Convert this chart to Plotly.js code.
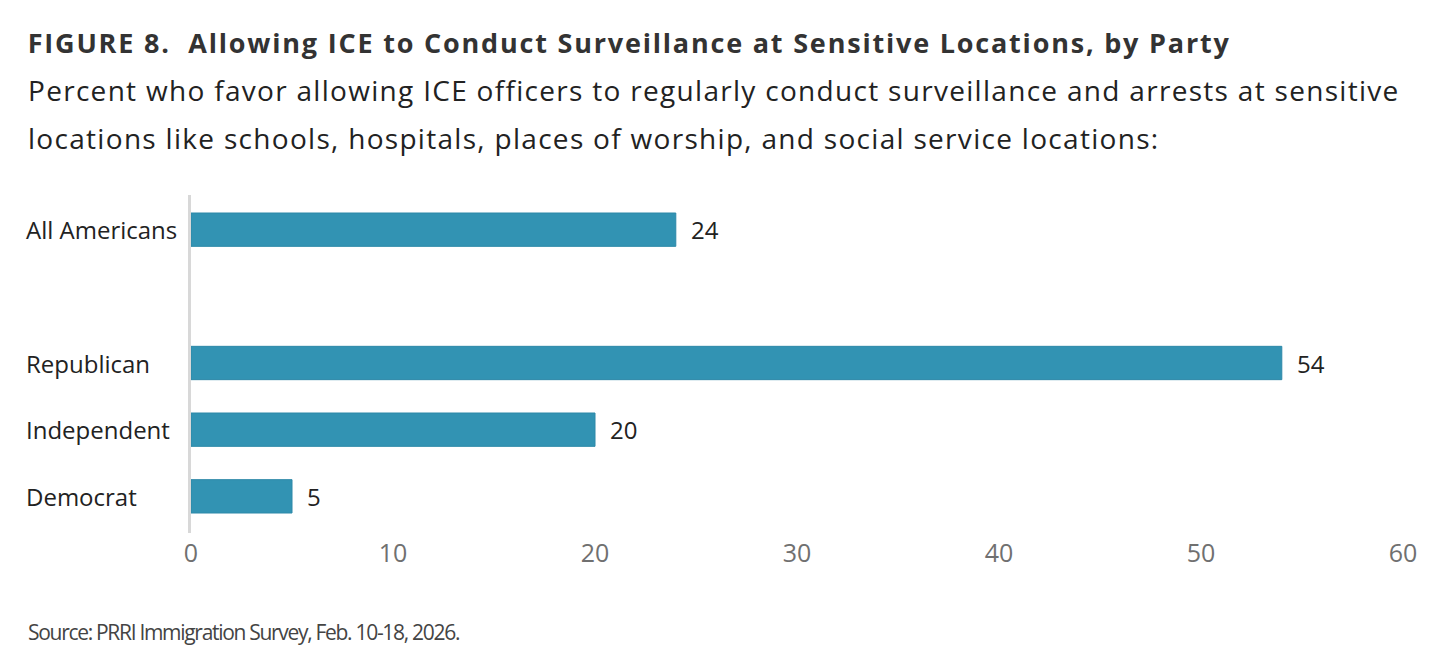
<!DOCTYPE html>
<html>
<head>
<meta charset="utf-8">
<script src="https://cdn.plot.ly/plotly-3.0.1.min.js"></script>
<style>html,body{margin:0;padding:0;background:#fff;}#chart{width:1456px;height:668px;}</style>
</head>
<body>
<div id="chart"></div>
<script>
const categories = ["All Americans", " ", "Republican", "Independent", "Democrat"];
const values = [24, null, 54, 20, 5];
const xTicks = [0, 10, 20, 30, 40, 50, 60];

const titleText = "<b>FIGURE 8.&nbsp; Allowing ICE to Conduct Surveillance at Sensitive Locations, by Party</b>";
const subtitleLines = [
  "Percent who favor allowing ICE officers to regularly conduct surveillance and arrests at sensitive",
  "locations like schools, hospitals, places of worship, and social service locations:"
];
const sourceText = "Source: PRRI Immigration Survey, Feb. 10-18, 2026.";

const FONT = "Open Sans, Noto Sans, sans-serif";
const W = 1456, H = 668;
const L = 191, R = 53, T = 195, B = 135;
const plotW = W - L - R, plotH = H - T - B;
const px2x = px => (px - L) / plotW;
const py2y = py => (H - B - py) / plotH;

const annotations = [];
const spacing = [];
annotations.push({xref:'paper', yref:'paper', x:px2x(26), y:py2y(42), xanchor:'left', yanchor:'middle',
  text:titleText, showarrow:false, font:{family:FONT, size:27, color:'#333333'}});
spacing.push(1.8);
subtitleLines.forEach((t,i)=>{
  annotations.push({xref:'paper', yref:'paper', x:px2x(26), y:py2y(90 + i*48), xanchor:'left', yanchor:'middle',
    text:t, showarrow:false, font:{family:FONT, size:28, color:'#222222'}});
  spacing.push(1.3);
});
annotations.push({xref:'paper', yref:'paper', x:px2x(26), y:py2y(632), xanchor:'left', yanchor:'middle',
  text:sourceText, showarrow:false, font:{family:FONT, size:21, color:'#444444'}});
spacing.push(-1.3);
categories.forEach((c,i)=>{
  if (values[i] === null) return;
  annotations.push({xref:'paper', yref:'y', x:px2x(24), y:c, xanchor:'left', yanchor:'middle',
    text:c, showarrow:false, font:{family:FONT, size:24, color:'#222222'}});
  spacing.push(0);
  annotations.push({xref:'x', yref:'y', x:values[i], y:c, xanchor:'left', yanchor:'middle', xshift:13,
    text:String(values[i]), showarrow:false, font:{family:FONT, size:24, color:'#222222'}});
  spacing.push(0);
});

const trace = {
  type:'bar', orientation:'h', y:categories, x:values,
  marker:{color:'#3293b3', line:{color:'#2c88a8', width:1}},
  width:0.5, hoverinfo:'skip'
};

const layout = {
  width:W, height:H,
  margin:{l:L, r:R, t:T, b:B, pad:0},
  paper_bgcolor:'#ffffff', plot_bgcolor:'#ffffff',
  showlegend:false,
  xaxis:{range:[0,60], tickvals:xTicks, ticktext:xTicks.map(String), showgrid:false, zeroline:false,
    showline:false, ticks:'', ticklabelstandoff:3, tickfont:{family:FONT, size:25, color:'#707070'}, fixedrange:true},
  yaxis:{type:'category', categoryorder:'array', categoryarray:categories, range:[4.55,-0.52],
    showticklabels:false, ticks:'', showgrid:false, zeroline:false,
    showline:true, linecolor:'#d8d8d8', linewidth:3, fixedrange:true},
  annotations:annotations
};

Plotly.newPlot('chart', [trace], layout, {displayModeBar:false, staticPlot:true}).then(gd=>{
  const groups = gd.querySelectorAll('.annotation');
  groups.forEach(g=>{
    const idx = +g.getAttribute('data-index');
    const sp = spacing[idx];
    if (!sp) return;
    const t = g.querySelector('text.annotation-text') || g.querySelector('text');
    if (!t) return;
    const before = t.getBBox().width;
    t.style.letterSpacing = sp + 'px';
    const after = t.getBBox().width;
    const d = (after - before) / 2;
    const prev = t.getAttribute('transform') || '';
    t.setAttribute('transform', ('translate(' + d + ',0) ' + prev).trim());
  });
});
</script>
</body>
</html>
